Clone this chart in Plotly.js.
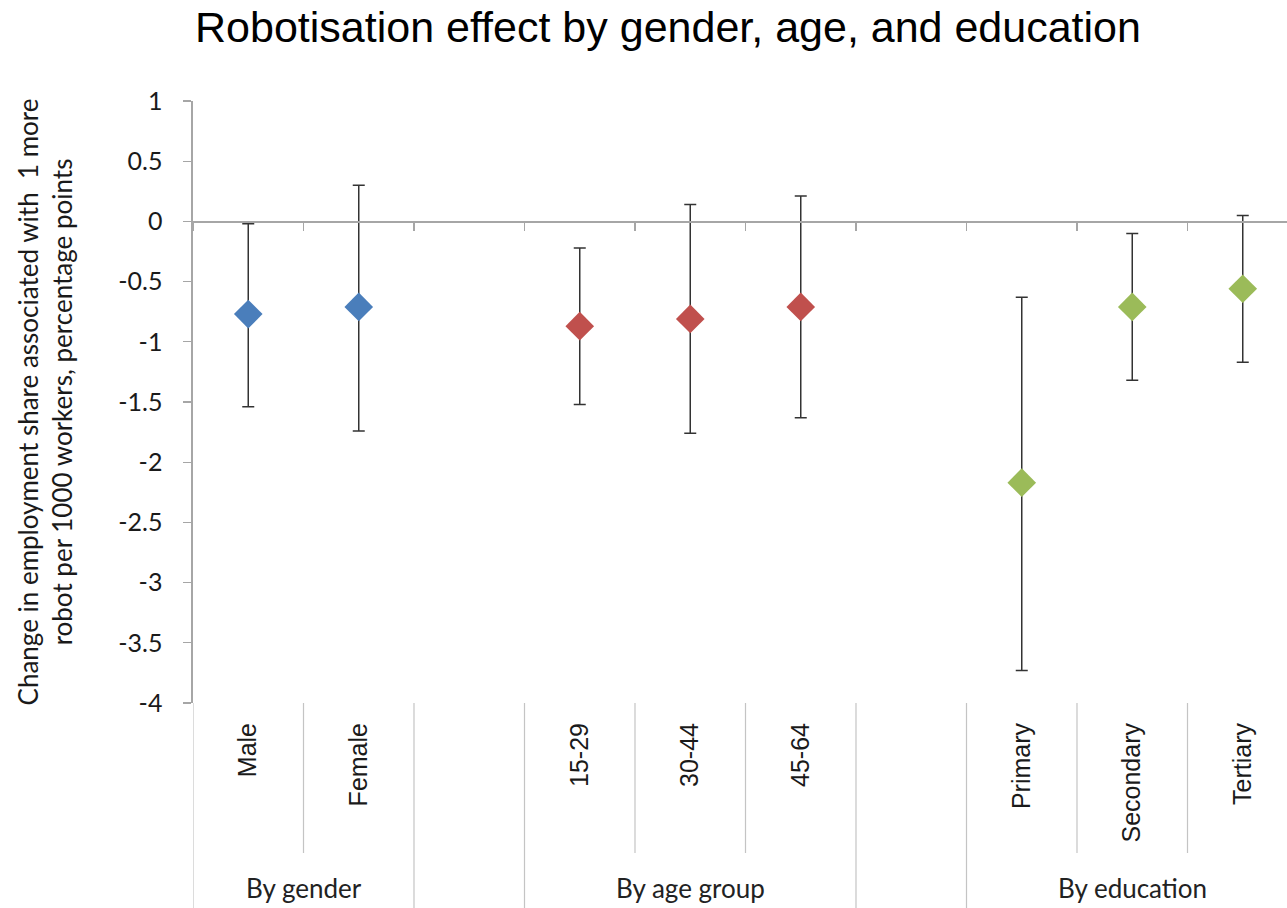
<!DOCTYPE html>
<html>
<head>
<meta charset="utf-8">
<script src="https://cdn.plot.ly/plotly-3.0.1.min.js"></script>
<style>
html, body { margin: 0; padding: 0; overflow: hidden; background: #ffffff; }
#chart { width: 1300px; height: 908px; }
</style>
</head>
<body>
<div id="chart"></div>
<script>
// ---- data ----
const categories = ['Male', 'Female', ' ', '15-29', '30-44', '45-64', '  ', 'Primary', 'Secondary', 'Tertiary'];
const groupNames = ['By gender', '', 'By age group', '', 'By education'];
const groupSizes = [2, 1, 3, 1, 3];

const genderCats = ['Male', 'Female'];
const genderEst = [-0.77, -0.71];
const genderLow = [-1.54, -1.74];
const genderHigh = [-0.02, 0.30];

const ageCats = ['15-29', '30-44', '45-64'];
const ageEst = [-0.87, -0.81, -0.71];
const ageLow = [-1.52, -1.76, -1.63];
const ageHigh = [-0.22, 0.14, 0.21];

const eduCats = ['Primary', 'Secondary', 'Tertiary'];
const eduEst = [-2.17, -0.71, -0.56];
const eduLow = [-3.73, -1.32, -1.17];
const eduHigh = [-0.63, -0.10, 0.05];

const yTickVals = [1, 0.5, 0, -0.5, -1, -1.5, -2, -2.5, -3, -3.5, -4];

// ---- styling ----
const sans = 'Lato, "Open Sans", sans-serif';
const arial = '"Liberation Sans", Arial, sans-serif';
const axisGray = '#a6a6a6';
const sepGray = '#c4c4c4';

function seriesTrace(cats, est, low, high, color) {
  return {
    type: 'scatter', mode: 'markers', x: cats, y: est,
    xaxis: 'x', yaxis: 'y',
    marker: { symbol: 'diamond', size: 22, color: color, line: { width: 0 } },
    error_y: {
      type: 'data', symmetric: false,
      array: high.map((h, i) => h - est[i]),
      arrayminus: low.map((l, i) => est[i] - l),
      color: '#333333', thickness: 1.5, width: 6
    },
    hoverinfo: 'x+y', showlegend: false
  };
}

const catHolder = (xa) => ({
  type: 'scatter', mode: 'markers', x: categories, y: categories.map(() => null),
  xaxis: xa, yaxis: 'y', showlegend: false, hoverinfo: 'skip'
});

const traces = [
  catHolder('x'),
  catHolder('x2'),
  seriesTrace(genderCats, genderEst, genderLow, genderHigh, '#4a7ebb'),
  seriesTrace(ageCats, ageEst, ageLow, ageHigh, '#c0504d'),
  seriesTrace(eduCats, eduEst, eduLow, eduHigh, '#9bbb59')
];

// ---- separators & group labels under the axis ----
const plotTop = 101, plotBottom = 703, pageH = 908;
const plotH = plotBottom - plotTop;
const shortEnd = -(853 - plotBottom) / plotH;
const longEnd = -(pageH - plotBottom) / plotH;
const groupLabelY = -(888 - plotBottom) / plotH;

const groupBounds = [0];
groupSizes.forEach(s => groupBounds.push(groupBounds[groupBounds.length - 1] + s));
const shapes = [];
for (let b = 0; b <= categories.length; b++) {
  const isGroup = groupBounds.includes(b);
  shapes.push({
    type: 'line', xref: 'x', yref: 'paper',
    x0: b - 0.5, x1: b - 0.5, y0: 0, y1: isGroup ? longEnd : shortEnd,
    line: { color: sepGray, width: 1.2 }
  });
}
const annotations = [];
groupNames.forEach((g, i) => {
  if (!g) return;
  annotations.push({
    text: g, xref: 'x', yref: 'paper',
    x: groupBounds[i] + groupSizes[i] / 2 - 0.5, y: groupLabelY,
    xanchor: 'center', yanchor: 'middle', showarrow: false,
    font: { family: sans, size: 26, color: '#222222' }
  });
});

const layout = {
  width: 1300, height: 908,
  margin: { l: 193, r: 2, t: plotTop, b: pageH - plotBottom },
  paper_bgcolor: '#ffffff', plot_bgcolor: '#ffffff',
  title: {
    text: 'Robotisation effect by gender, age, and education',
    font: { family: arial, size: 43, color: '#000000' },
    xref: 'container', x: 668 / 1300, xanchor: 'center',
    yref: 'container', y: 1 - 27 / 908, yanchor: 'middle'
  },
  xaxis: {
    type: 'category', categoryorder: 'array', categoryarray: categories,
    range: [-0.5, categories.length - 0.5],
    showline: false, showgrid: false, zeroline: false, ticks: '',
    tickangle: -90, ticklabelstandoff: 14,
    tickfont: { family: arial, size: 25, color: '#1a1a1a' },
    fixedrange: true
  },
  xaxis2: {
    type: 'category', categoryorder: 'array', categoryarray: categories,
    range: [-0.5, categories.length - 0.5],
    overlaying: 'x', anchor: 'free', position: 0.8,
    showline: true, linecolor: axisGray, linewidth: 1.6,
    ticks: 'outside', tickson: 'boundaries', ticklen: 8, tickcolor: axisGray, tickwidth: 1.4,
    showticklabels: false, showgrid: false, zeroline: false, fixedrange: true
  },
  yaxis: {
    range: [-4, 1], tickmode: 'array', tickvals: yTickVals,
    ticktext: yTickVals.map(v => String(v)),
    showline: true, linecolor: axisGray, linewidth: 1.6,
    ticks: 'outside', ticklen: 8, tickcolor: axisGray, tickwidth: 1.4,
    ticklabelstandoff: 16,
    tickfont: { family: sans, size: 25, color: '#1a1a1a' },
    showgrid: false, zeroline: false, fixedrange: true,
    title: {
      text: 'Change in employment share associated with  1 more<br>robot per 1000 workers, percentage points',
      font: { family: sans, size: 26, color: '#1a1a1a' },
      standoff: 38
    }
  },
  shapes: shapes,
  annotations: annotations,
  showlegend: false
};

Plotly.newPlot('chart', traces, layout, { displayModeBar: false, staticPlot: true });
</script>
</body>
</html>
